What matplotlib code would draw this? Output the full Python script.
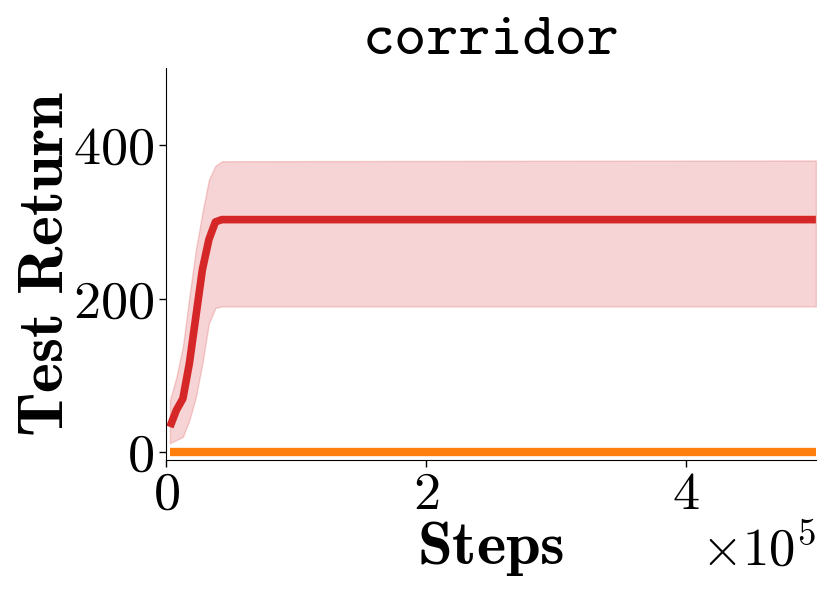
import numpy as np
import matplotlib
matplotlib.use("Agg")
import matplotlib.pyplot as plt

plt.rcParams['font.family'] = 'serif'
plt.rcParams['font.serif'] = ['cmr10']
plt.rcParams['mathtext.fontset'] = 'cm'
plt.rcParams['axes.formatter.use_mathtext'] = True

# learning curve (steps, mean return, band)
steps = [3000, 8000, 13000, 18000, 23000, 28000, 33000, 38000, 43000, 500000]
mean_ret = [33, 55, 70, 116, 177, 238, 277, 300, 303, 303]
upper = [68, 98, 138, 203, 264, 312, 355, 373, 379, 380]
lower = [12, 16, 20, 42, 72, 116, 168, 188, 190, 190]

# baseline that never leaves zero
base_steps = [3000, 500000]
base_ret = [0, 0]

fig = plt.figure(figsize=(8.3, 5.99), dpi=100)
ax = fig.add_axes([0.2, 0.232, 0.783, 0.654])

ax.fill_between(steps, lower, upper, color='#d62728', alpha=0.2, linewidth=1.0)
ax.plot(steps, mean_ret, color='#d62728', lw=5.5, solid_capstyle='butt')
ax.plot(base_steps, base_ret, color='#ff7f0e', lw=6, solid_capstyle='butt')

ax.set_xlim(0, 500000)
ax.set_ylim(-10, 500)
ax.set_yticks([0, 200, 400])
ax.set_xticks([0, 200000, 400000])
ax.ticklabel_format(axis='x', style='sci', scilimits=(0, 0), useMathText=True)
ax.xaxis.get_offset_text().set_fontsize(38)

ax.spines['top'].set_visible(False)
ax.spines['right'].set_visible(False)
ax.tick_params(labelsize=39, length=5, width=1)

ax.set_xlabel(r'$\mathbf{Steps}$', fontsize=45, labelpad=0)
ax.set_ylabel(r'$\mathbf{Test\ Return}$', fontsize=46, labelpad=-2)
ax.set_title('corridor', fontfamily='cmtt10', fontsize=44, pad=8)

fig.savefig('out.png', dpi=100)
